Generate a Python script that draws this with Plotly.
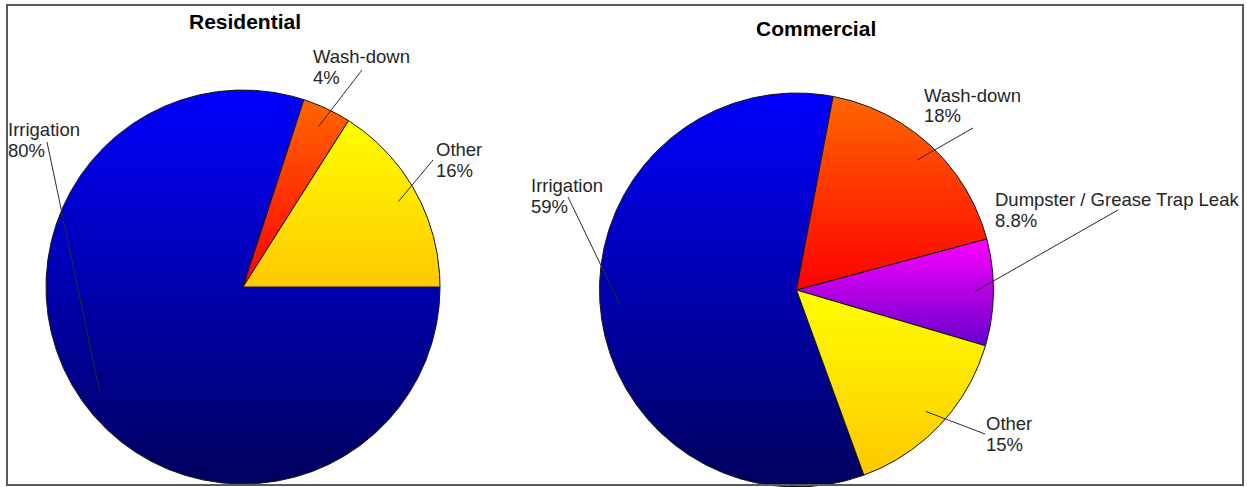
import numpy as np
import plotly.graph_objects as go

# ---- data -------------------------------------------------------------
res_labels = ["Irrigation", "Wash-down", "Other"]
res_values = [80, 4, 16]

com_labels = ["Irrigation", "Wash-down", "Dumpster / Grease Trap Leak", "Other"]
com_values = [59, 18, 8.8, 15]

# vertical gradient (top colour, bottom colour) for each category
palette = {
    "Irrigation": ("#0000FF", "#00005E"),
    "Wash-down": ("#FF6600", "#FF0000"),
    "Dumpster / Grease Trap Leak": ("#FF00FF", "#6600CC"),
    "Other": ("#FFFF00", "#FFC800"),
}

W, H = 1247, 487
FONT = "Liberation Sans, Arial, sans-serif"
LABEL_SIZE = 18.5
TITLE_SIZE = 21
LINE_GAP = 20.7

# pie geometry and label placement (screen pixels, y grows downward)
# placement rows: text left, first-line baseline, leader anchor x, leader anchor y
charts = [
    dict(title="Residential", labels=res_labels, values=res_values,
         cx=243, cy=287, r=197, start=0, title_xy=(244.5, 29),
         placement=[(8, 136, 47, 142), (313, 63, 362, 70), (436, 156, 433, 160)]),
    dict(title="Commercial", labels=com_labels, values=com_values,
         cx=796.5, cy=290, r=197, start=290, title_xy=(815.8, 35.7),
         placement=[(531, 192.3, 568, 197), (924, 101.7, 973, 128),
                    (995, 206, 1118, 210), (986, 430, 985, 434)]),
]

fig = go.Figure()
annotations = []


def mid_baseline(baseline, size):
    # vertical centre of a text line given its baseline
    return baseline - 0.3465 * size


for ch in charts:
    vals = np.asarray(ch["values"], dtype=float)
    frac = vals / vals.sum()
    cx, cy, r = ch["cx"], ch["cy"], ch["r"]
    angle = ch["start"]
    for lab, val, f, (tx, tb, ax, ay) in zip(ch["labels"], ch["values"], frac, ch["placement"]):
        a0, a1 = angle, angle - f * 360.0  # clockwise
        angle = a1
        t = np.radians(np.linspace(a0, a1, max(int(abs(a1 - a0) * 3), 4)))
        xs = np.concatenate([[cx], cx + r * np.cos(t), [cx]])
        ys = np.concatenate([[cy], cy - r * np.sin(t), [cy]])
        top, bottom = palette[lab]
        # gradient runs from the slice's lowest screen point (0) to its highest (1)
        fig.add_trace(go.Scatter(
            x=xs, y=ys, mode="lines", fill="toself",
            fillgradient=dict(type="vertical", colorscale=[[0, bottom], [1, top]]),
            line=dict(color="#141414", width=1),
            hoverinfo="skip", showlegend=False,
        ))
        # leader line to a point at 90% of the radius on the slice bisector
        am = np.radians((a0 + a1) / 2.0)
        px, py = cx + 0.9 * r * np.cos(am), cy - 0.9 * r * np.sin(am)
        fig.add_trace(go.Scatter(
            x=[ax, px], y=[ay, py], mode="lines",
            line=dict(color="#2a2a2a", width=1),
            hoverinfo="skip", showlegend=False,
        ))
        for k, txt in enumerate([lab, f"{val:g}%"]):
            annotations.append(dict(
                x=tx, y=mid_baseline(tb + k * LINE_GAP, LABEL_SIZE),
                xref="x", yref="y", text=txt, showarrow=False,
                xanchor="left", yanchor="middle", borderpad=0, borderwidth=0,
                font=dict(family=FONT, size=LABEL_SIZE, color="#262626"),
            ))
    tx, tb = ch["title_xy"]
    annotations.append(dict(
        x=tx, y=mid_baseline(tb, TITLE_SIZE), xref="x", yref="y",
        text=f"<b>{ch['title']}</b>", showarrow=False,
        xanchor="center", yanchor="middle", borderpad=0, borderwidth=0,
        font=dict(family=FONT, size=TITLE_SIZE, color="#000000"),
    ))

fig.update_layout(
    width=W, height=H,
    margin=dict(l=0, r=0, t=0, b=0),
    paper_bgcolor="white", plot_bgcolor="white",
    xaxis=dict(range=[0, W], visible=False, fixedrange=True),
    yaxis=dict(range=[H, 0], visible=False, fixedrange=True),
    annotations=annotations,
    shapes=[dict(type="rect", xref="x", yref="y", x0=7, x1=1243, y0=5, y1=485,
                 line=dict(color="#5a5a5a", width=2), layer="above")],
    showlegend=False,
)

fig.write_html("out.html", config={"displayModeBar": False})
